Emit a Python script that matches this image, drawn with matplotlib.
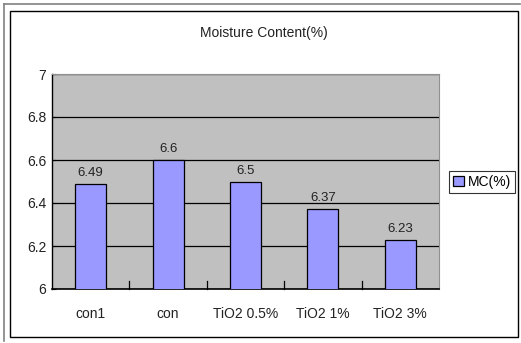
import matplotlib.pyplot as plt
from matplotlib.patches import Rectangle
from matplotlib.lines import Line2D

# Moisture content per sample
categories = ['con1', 'con', 'TiO2 0.5%', 'TiO2 1%', 'TiO2 3%']
mc_values = [6.49, 6.6, 6.5, 6.37, 6.23]
y_ticks = [6, 6.2, 6.4, 6.6, 6.8, 7]
y_tick_labels = ['6', '6.2', '6.4', '6.6', '6.8', '7']

plt.rcParams['font.family'] = ['Liberation Sans', 'DejaVu Sans']

W, H = 521, 343
fig = plt.figure(figsize=(W / 100, H / 100), dpi=100)
fig.patch.set_facecolor('white')

def fx(px):
    return px / W

def fy(py):
    return 1 - py / H

# chart frame: gray outer edge plus black inner border
fig.add_artist(Line2D([fx(4), fx(520)], [fy(4), fy(4)], color='#808080', lw=1.2))
fig.add_artist(Line2D([fx(4), fx(4)], [fy(4), fy(341)], color='#808080', lw=1.2))
fig.add_artist(Rectangle((fx(10), fy(337)), fx(518) - fx(10), fy(11) - fy(337),
                         fill=False, edgecolor='black', lw=1.0))

ax = fig.add_axes([fx(52), fy(289), fx(439) - fx(52), fy(74) - fy(289)])
ax.set_facecolor('#C0C0C0')

x = list(range(len(categories)))
bars = ax.bar(x, mc_values, width=0.4, color='#9999FF', edgecolor='black',
              linewidth=0.9, label='MC(%)', zorder=3)
for xi, v in zip(x, mc_values):
    ax.text(xi, v + 0.037, f'{v:g}', ha='center', va='baseline', fontsize=9.5,
            color='#222222')

ax.set_xlim(-0.5, len(categories) - 0.5)
ax.set_ylim(6, 7)
ax.set_yticks(y_ticks)
ax.set_yticklabels(y_tick_labels, fontsize=10, color='#222222')
ax.yaxis.grid(True, color='black', linewidth=0.9, zorder=1)
ax.set_axisbelow(True)

ax.set_xticks(x)
ax.set_xticklabels(categories, fontsize=10, color='#222222')
ax.tick_params(axis='x', length=0, pad=13)
ax.tick_params(axis='y', direction='in', length=3, pad=4, color='black')
# category boundary ticks pointing up from the base
for b in range(1, len(categories)):
    ax.plot([b - 0.5, b - 0.5], [6, 6.035], color='black', lw=0.9,
            clip_on=False, zorder=4)

for side in ['top', 'right']:
    ax.spines[side].set_color('#909090')
    ax.spines[side].set_linewidth(0.8)
ax.spines['left'].set_linewidth(1.0)
ax.spines['bottom'].set_linewidth(1.2)

fig.text(fx(264), fy(33), 'Moisture Content(%)', ha='center', va='center',
         fontsize=10, color='#222222')

leg = fig.legend(handles=[bars], labels=['MC(%)'], loc='center',
                 bbox_to_anchor=(fx(482), fy(182)), fontsize=10,
                 frameon=True, fancybox=False, edgecolor='black',
                 handlelength=0.8, handleheight=0.8, handletextpad=0.3,
                 borderpad=0.3, borderaxespad=0)
leg.get_frame().set_linewidth(0.8)

fig.savefig('out.png', dpi=100)
